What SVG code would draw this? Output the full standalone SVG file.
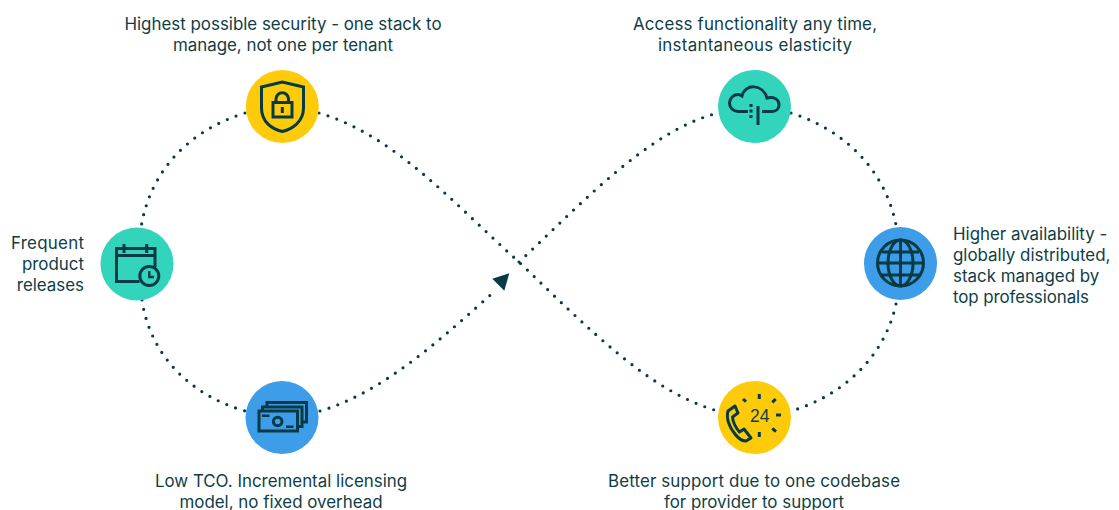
<svg xmlns="http://www.w3.org/2000/svg" width="1119" height="510" viewBox="0 0 1119 510">
<style>
text{font-family:"Inter","Liberation Sans",sans-serif;font-size:16.9px;fill:#0f3d46}
.m{text-anchor:middle}.e{text-anchor:end}
.dot{fill:none;stroke:#063a44;stroke-width:3.2;stroke-linecap:round;stroke-dasharray:0 9.4}
.ic{fill:none;stroke:#063a44;stroke-width:3}
.ic2{fill:none;stroke:#063a44;stroke-width:2.4}
.y{fill:#fecb0a}.g{fill:#32d5bb}.b{fill:#3d9de8}
</style>
<rect width="1119" height="510" fill="#fff"/>
<g id="connectors">
<path class="dot" d="M245,113C190,130 150,170 141,228"/>
<path class="dot" d="M142,300C150,355 190,395 245,411"/>
<path class="dot" d="M320,411C385,392 445,335 495,291"/>
<path class="dot" d="M319,113C395,135 455,205 519,262C590,330 650,392 718,411"/>
<path class="dot" d="M519,262C585,200 650,130 718,113"/>
<path class="dot" d="M791,113C845,130 885,170 896,225"/>
<path class="dot" d="M896,304C885,355 845,395 791,411"/>
<polygon points="492.300,278.700 509.300,273.300 504.300,290.700" fill="#063a44"/>
</g>
<g id="node-security">
<circle class="y" cx="282.300" cy="106.500" r="36.500"/>
<path class="ic" d="M261.500,87L282.300,82L303.500,87V108C303.500,122 292,129 282.300,131.500C272,129 261.500,122 261.500,108Z"/>
<rect class="ic" x="273" y="102.500" width="19" height="14.500"/>
<path class="ic" d="M276,102.500V99A6.200,6.200 0 0 1 288.500,99V102.500"/>
<path class="ic" d="M282.300,107V113"/>
<text class="m" x="283" y="30">Highest possible security - one stack to</text>
<text class="m" x="283" y="51">manage, not one per tenant</text>
</g>
<g id="node-elasticity">
<circle class="g" cx="754.500" cy="106.500" r="36.500"/>
<path class="ic" d="M748,111.500H738A8.500,8.500 0 0 1 738,94.500Q740,94.500 742,96C745,83 763,84 767,98C775,96 779,100 779,105C779,109 776,111.500 772,111.500H762"/>
<path class="ic" d="M758,106V125"/>
<path class="ic" d="M751,104V120" stroke-dasharray="3 2.500"/>
<text x="633" y="30" textLength="244">Access functionality any time,</text>
<text x="658" y="51" textLength="194">instantaneous elasticity</text>
</g>
<g id="node-releases">
<circle class="g" cx="137" cy="264" r="36.500"/>
<path class="ic" d="M155,267V248.500H116.500V281.500H139.500"/>
<path class="ic" d="M116.500,255.500H155"/>
<path class="ic" d="M124,244V253M146.700,244V253"/>
<circle class="ic" cx="149.300" cy="276" r="9.500"/>
<path class="ic2" d="M149.300,271V277H154"/>
<text x="11" y="249" textLength="73">Frequent</text>
<text class="e" x="84" y="270">product</text>
<text class="e" x="84" y="291">releases</text>
</g>
<g id="node-availability">
<circle class="b" cx="900.500" cy="263.500" r="36.500"/>
<circle class="ic" cx="900.500" cy="263" r="23"/>
<ellipse class="ic" cx="900.500" cy="263" rx="12.500" ry="23"/>
<path class="ic" d="M900.500,240V286M878,263H923M882,252H919M882,275H919"/>
<text x="953" y="239.500">Higher availability -</text>
<text x="953" y="260.500">globally distributed,</text>
<text x="953" y="281.500">stack managed by</text>
<text x="953" y="302.500" textLength="136">top professionals</text>
</g>
<g id="node-tco">
<circle class="b" cx="282" cy="417.500" r="36.500"/>
<rect class="ic" x="259" y="411" width="38.500" height="20"/>
<path class="ic" d="M262.500,411V407H302V426.500H297.500M267,407V402.500H306.500V422H302"/>
<circle class="ic" cx="277.700" cy="421.500" r="4.300"/>
<path class="ic2" d="M262,415.700H269.500M286,426.700H293.500"/>
<text class="m" x="281" y="487">Low TCO. Incremental licensing</text>
<text class="m" x="281" y="508">model, no fixed overhead</text>
</g>
<g id="node-support">
<circle class="y" cx="754.500" cy="417.500" r="36.500"/>
<path class="ic" d="M735,406L728,411C726,418 729,427 735,434C738,438 742,441 746,441L751,438L744,429L739.500,432C736,428 733,423 732.500,417L738,413Z" stroke-linejoin="round"/>
<path class="ic" d="M759.300,394V399M759.300,432V437M776,415H781M743,399L746,401.700M775.700,399L772.300,402.300M772.300,428.300L776,431.700"/>
<text x="750" y="421.500" style="font-family:'Liberation Sans',sans-serif;font-size:17.500px">24</text>
<text x="608" y="487" textLength="292">Better support due to one codebase</text>
<text class="m" x="754" y="508">for provider to support</text>
</g>
</svg>
